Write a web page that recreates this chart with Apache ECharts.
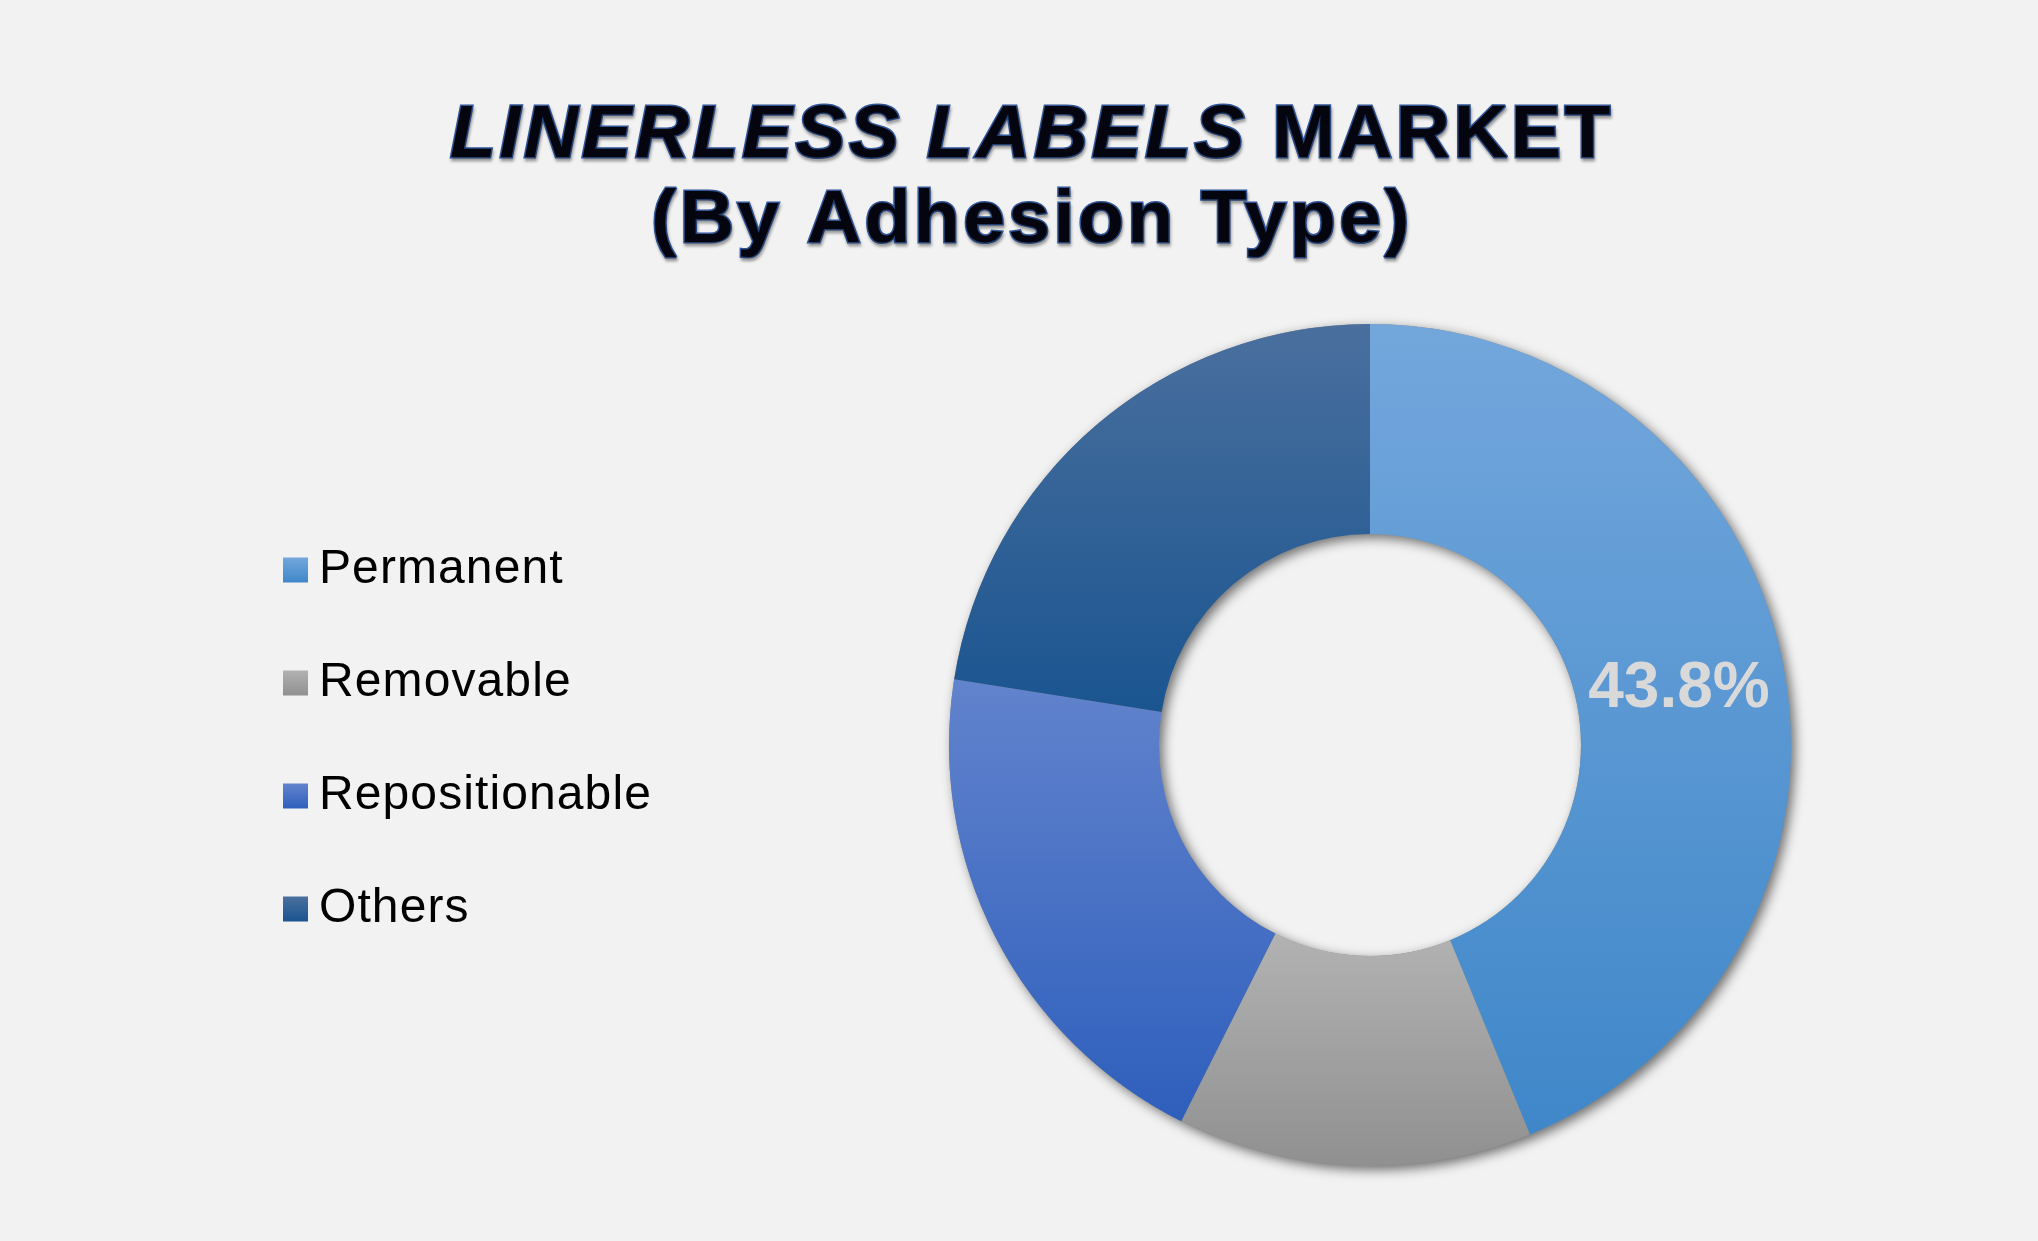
<!DOCTYPE html>
<html>
<head>
<meta charset="utf-8">
<script src="https://cdn.jsdelivr.net/npm/echarts@6/dist/echarts.min.js"></script>
<style>
html,body{margin:0;padding:0;background:#f2f2f2;}
#chart{width:2038px;height:1241px;}
</style>
</head>
<body>
<div id="chart"></div>
<script>
const categories = ['Permanent', 'Removable', 'Repositionable', 'Others'];
const values = [43.8, 13.6, 20.1, 22.5];
const labelShown = [true, false, false, false];
const gradTop = ['#73a7dc', '#b2b2b2', '#6283cd', '#4a6f9e'];
const gradBottom = ['#3f87c9', '#909090', '#2e5fbc', '#1a5590'];
const titleMain = 'LINERLESS LABELS';
const titleRest = 'MARKET';
const titleSub = '(By Adhesion Type)';

// Letter spacing for title / legend text (canvas letterSpacing, applied in draw & measure)
(function () {
  const P = CanvasRenderingContext2D.prototype;
  function spacing(ctx) {
    const f = ctx.font || '';
    if (f.indexOf('Liberation') < 0) return '0px';
    if (f.indexOf('75px') >= 0) return '3.5px';
    if (f.indexOf('48px') >= 0) return '1.1px';
    return '0px';
  }
  ['fillText', 'strokeText', 'measureText'].forEach(function (fn) {
    const orig = P[fn];
    P[fn] = function () {
      if ('letterSpacing' in this) this.letterSpacing = spacing(this);
      return orig.apply(this, arguments);
    };
  });
})();

const TFONT = '"Liberation Sans", Arial, sans-serif';
const LFONT = 'Arial, sans-serif';
function grad(i) {
  return new echarts.graphic.LinearGradient(0, 0, 0, 1, [
    { offset: 0, color: gradTop[i] },
    { offset: 1, color: gradBottom[i] }
  ]);
}

const chart = echarts.init(document.getElementById('chart'), null, { renderer: 'canvas' });
const titleBase = {
  fontFamily: TFONT,
  fontSize: 75,
  fontWeight: 'bold',
  color: '#05050f',
  lineHeight: 85,
  textBorderColor: '#2f5597',
  textBorderWidth: 3,
  textShadowColor: 'rgba(0,0,0,0.28)',
  textShadowBlur: 3,
  textShadowOffsetX: 1,
  textShadowOffsetY: 3
};
chart.setOption({
  backgroundColor: '#f2f2f2',
  title: {
    text: '{i|' + titleMain + '} {b|' + titleRest + '}\n{b|' + titleSub + '}',
    left: 1032,
    textAlign: 'center',
    top: 94,
    padding: 0,
    textStyle: Object.assign({}, titleBase, {
      rich: {
        i: Object.assign({}, titleBase, { fontStyle: 'italic' }),
        b: Object.assign({}, titleBase)
      }
    })
  },
  legend: {
    orient: 'vertical',
    left: 283,
    top: 545,
    padding: 0,
    itemWidth: 25,
    itemHeight: 25,
    itemGap: 63,
    icon: 'rect',
    selectedMode: false,
    textStyle: {
      fontFamily: TFONT,
      fontSize: 48,
      color: '#000000',
      lineHeight: 50,
      padding: [0, 0, 0, 6]
    },
    data: categories.map((c, i) => ({ name: c, itemStyle: { color: grad(i) } }))
  },
  series: [
    {
      type: 'pie',
      silent: true,
      center: [1370, 745],
      radius: [211, 421],
      label: { show: false },
      labelLine: { show: false },
      itemStyle: {
        color: '#888888',
        borderWidth: 0,
        shadowColor: 'rgba(0,0,0,0.55)',
        shadowBlur: 12,
        shadowOffsetX: 4,
        shadowOffsetY: 4
      },
      data: [{ name: '_ring', value: 1 }],
      z: 1
    },
    {
      type: 'pie',
      center: [1370, 745],
      radius: [211, 421],
      startAngle: 90,
      clockwise: true,
      silent: true,
      z: 2,
      labelLine: { show: false },
      itemStyle: { borderWidth: 0 },
      data: categories.map((c, i) => ({
        name: c,
        value: values[i],
        itemStyle: { color: grad(i) },
        label: {
          show: labelShown[i],
          position: 'inside',
          offset: [-4, 6],
          formatter: '{c}%',
          fontFamily: LFONT,
          fontSize: 64,
          fontWeight: 'bold',
          color: '#d9d9d9'
        }
      }))
    }
  ]
});
</script>
</body>
</html>
